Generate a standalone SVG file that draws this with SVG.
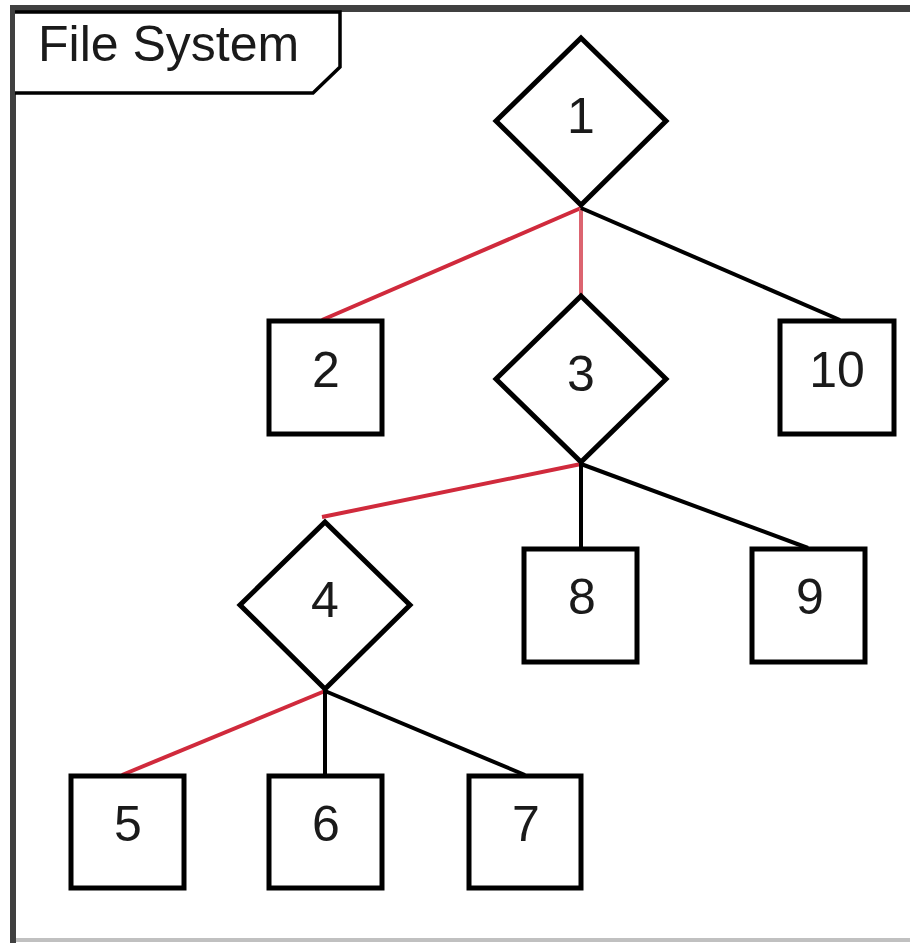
<svg xmlns="http://www.w3.org/2000/svg" width="910" height="943" viewBox="0 0 910 943">
  <style>
    .node { fill: #ffffff; stroke: #000000; stroke-width: 5; }
    .label { font-family: "Liberation Sans", Arial, sans-serif; font-size: 50px; fill: #1a1a1a; text-anchor: middle; }
    .edge { fill: none; stroke: #000000; stroke-width: 4; }
    .edge.sel { stroke: #d02a3c; stroke-width: 4; }
    .edge.sel.v { stroke: #dc6470; }
  </style>
  <rect width="910" height="943" fill="#ffffff"/>

  <!-- frame -->
  <g id="frame">
    <line x1="16" y1="940" x2="910" y2="940" stroke="#c0c0c0" stroke-width="4"/>
    <line x1="13" y1="5" x2="13" y2="943" stroke="#404040" stroke-width="6"/>
    <line x1="10" y1="8.5" x2="910" y2="8.5" stroke="#404040" stroke-width="7"/>
    <path d="M15,12 H340 V67 L313,93 H15" fill="#ffffff" stroke="#000000" stroke-width="3.5"/>
    <text x="38" y="61" font-family="Liberation Sans, Arial, sans-serif" font-size="50" fill="#1a1a1a">File System</text>
  </g>

  <!-- connectors -->
  <g id="edges">
    <line class="edge sel" x1="581" y1="208" x2="322" y2="320"/>
    <line class="edge sel v" x1="581" y1="208" x2="581" y2="295"/>
    <line class="edge" x1="581" y1="208" x2="840" y2="320"/>
    <line class="edge sel" x1="581" y1="464" x2="322" y2="517"/>
    <line class="edge" x1="581" y1="464" x2="581" y2="548"/>
    <line class="edge" x1="581" y1="464" x2="808" y2="548"/>
    <line class="edge sel" x1="325" y1="691" x2="122" y2="775"/>
    <line class="edge" x1="325" y1="691" x2="325" y2="775"/>
    <line class="edge" x1="325" y1="691" x2="525" y2="775"/>
  </g>

  <g id="n1">
    <polygon class="node" points="581,38 666,121 581,205 496,121"/>
    <text class="label" x="581" y="133">1</text>
  </g>
  <g id="n2">
    <rect class="node" x="269" y="321" width="113" height="113"/>
    <text class="label" x="326" y="387">2</text>
  </g>
  <g id="n3">
    <polygon class="node" points="581,296 666,379 581,462 496,379"/>
    <text class="label" x="581" y="391">3</text>
  </g>
  <g id="n10">
    <rect class="node" x="780" y="321" width="114" height="113"/>
    <text class="label" x="837" y="387">10</text>
  </g>
  <g id="n4">
    <polygon class="node" points="325,522 410,605 325,689 240,605"/>
    <text class="label" x="325" y="617">4</text>
  </g>
  <g id="n8">
    <rect class="node" x="524" y="549" width="113" height="113"/>
    <text class="label" x="582" y="614">8</text>
  </g>
  <g id="n9">
    <rect class="node" x="752" y="549" width="113" height="113"/>
    <text class="label" x="810" y="614">9</text>
  </g>
  <g id="n5">
    <rect class="node" x="71" y="776" width="113" height="112"/>
    <text class="label" x="128" y="841">5</text>
  </g>
  <g id="n6">
    <rect class="node" x="269" y="776" width="113" height="112"/>
    <text class="label" x="326" y="841">6</text>
  </g>
  <g id="n7">
    <rect class="node" x="469" y="776" width="112" height="112"/>
    <text class="label" x="526" y="841">7</text>
  </g>
</svg>
